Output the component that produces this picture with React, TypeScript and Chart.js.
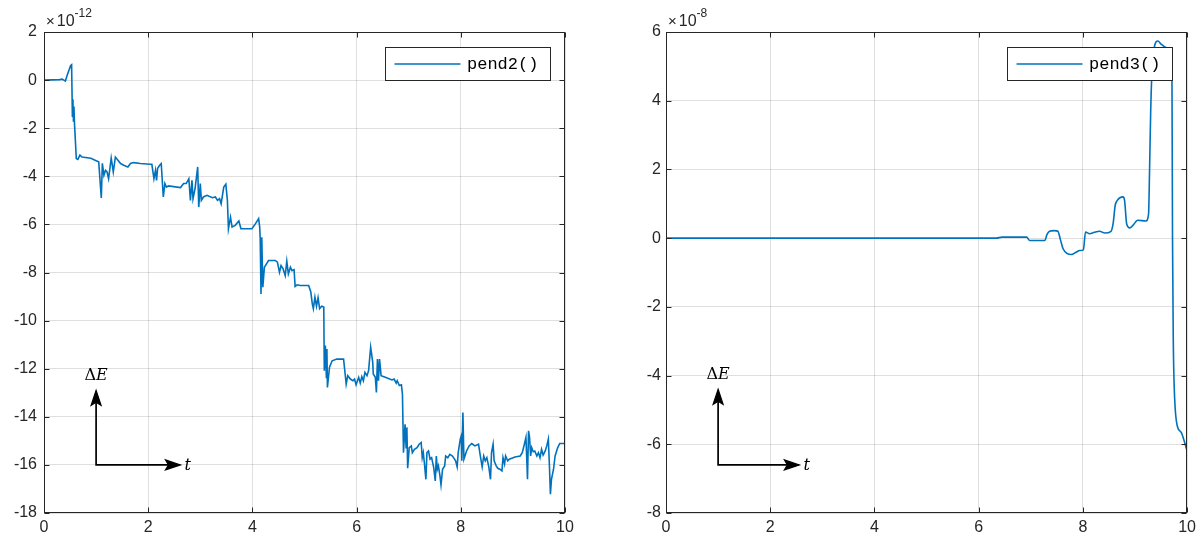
import { useEffect, useRef } from "react";
import { Chart, registerables } from "chart.js";

Chart.register(...registerables);

// ---------- data ----------
const t2 = [
  0, 0.3, 0.35, 0.41, 0.445, 0.51, 0.53, 0.545, 0.555, 0.565, 0.575, 0.585, 0.62, 0.65, 0.69, 0.73,
  0.9, 1.0, 1.05, 1.1, 1.12, 1.15, 1.18, 1.21, 1.24, 1.29, 1.33, 1.37, 1.42, 1.47, 1.53, 1.61, 1.66,
  1.72, 1.85, 2.04, 2.07, 2.11, 2.14, 2.16, 2.18, 2.22, 2.25, 2.29, 2.32, 2.35, 2.39, 2.62, 2.68,
  2.73, 2.78, 2.81, 2.84, 2.86, 2.9, 2.95, 2.97, 3.0, 3.02, 3.06, 3.13, 3.23, 3.29, 3.33, 3.37, 3.4,
  3.45, 3.49, 3.52, 3.54, 3.58, 3.61, 3.67, 3.74, 3.78, 3.9, 3.99, 4.06, 4.12, 4.14, 4.15, 4.165,
  4.18, 4.2, 4.23, 4.27, 4.31, 4.44, 4.48, 4.52, 4.55, 4.59, 4.63, 4.66, 4.69, 4.73, 4.76, 4.8,
  4.82, 4.86, 4.92, 5.08, 5.12, 5.15, 5.17, 5.2, 5.23, 5.26, 5.29, 5.33, 5.37, 5.38, 5.4, 5.42,
  5.43, 5.44, 5.48, 5.53, 5.62, 5.75, 5.78, 5.8, 5.83, 5.88, 5.93, 5.96, 5.99, 6.04, 6.07, 6.1,
  6.13, 6.16, 6.2, 6.23, 6.27, 6.31, 6.32, 6.36, 6.38, 6.4, 6.42, 6.44, 6.47, 6.55, 6.68, 6.72,
  6.76, 6.78, 6.82, 6.86, 6.88, 6.9, 6.93, 6.95, 6.965, 6.98, 7.01, 7.05, 7.07, 7.11, 7.16, 7.2,
  7.24, 7.26, 7.28, 7.3, 7.33, 7.35, 7.38, 7.41, 7.44, 7.48, 7.51, 7.53, 7.55, 7.57, 7.6, 7.62,
  7.65, 7.69, 7.71, 7.75, 7.79, 7.84, 7.88, 7.9, 7.93, 7.95, 7.99, 8.01, 8.02, 8.04, 8.06, 8.08,
  8.11, 8.16, 8.21, 8.27, 8.34, 8.38, 8.41, 8.44, 8.47, 8.5, 8.54, 8.57, 8.59, 8.62, 8.64, 8.68,
  8.71, 8.75, 8.79, 8.81, 8.84, 8.86, 8.9, 8.93, 8.98, 9.04, 9.14, 9.18, 9.22, 9.25, 9.27, 9.28,
  9.3, 9.32, 9.34, 9.36, 9.39, 9.42, 9.46, 9.49, 9.52, 9.55, 9.58, 9.62, 9.65, 9.68, 9.7, 9.72,
  9.74, 9.78, 9.81, 9.86, 9.9, 10.0,
];
const e2 = [
  0, 0.02, 0.04, -0.04, 0.2, 0.6, 0.64, -1.5, -0.8, -1.7, -1.1, -1.8, -3.26, -3.3, -3.12, -3.2,
  -3.25, -3.35, -3.4, -4.9, -3.46, -3.96, -3.75, -3.82, -4.1, -3.24, -3.82, -3.2, -3.33, -3.47,
  -3.54, -3.61, -3.47, -3.43, -3.47, -3.5, -3.5, -4.1, -3.75, -4.17, -3.68, -3.54, -3.47, -4.86,
  -4.3, -4.45, -4.4, -4.47, -4.3, -4.3, -4.1, -5.0, -4.17, -4.93, -4.5, -3.61, -5.28, -4.3, -5.0,
  -4.86, -4.79, -4.89, -4.86, -5.0, -4.93, -5.14, -4.45, -4.33, -5.0, -6.18, -5.7, -6.11, -6.04,
  -5.86, -6.18, -6.18, -6.18, -5.97, -5.76, -6.11, -6.6, -8.89, -6.53, -8.61, -7.78, -7.64, -7.5,
  -7.5, -7.57, -7.99, -7.71, -7.85, -8.13, -7.53, -8.06, -7.78, -7.92, -7.88, -8.58, -8.51, -8.54,
  -8.54, -8.8, -9.3, -9.5, -9.03, -9.4, -9.05, -9.5, -9.4, -9.44, -12.08, -11.04, -12.36, -11.18,
  -12.78, -11.94, -11.67, -11.6, -11.6, -12.22, -12.64, -12.29, -12.43, -12.5, -12.43, -12.67,
  -12.36, -12.6, -12.33, -12.5, -12.15, -12.29, -12.08, -11.11, -11.74, -12.22, -12.36, -12.99,
  -11.6, -12.5, -11.6, -12.29, -12.36, -12.47, -12.43, -12.6, -12.5, -12.7, -12.67, -13.06,
  -15.49, -14.31, -15.28, -14.44, -16.14, -15.28, -15.21, -15.49, -15.35, -15.28, -15.14, -15.07,
  -15.7, -15.49, -15.9, -16.6, -15.49, -15.42, -15.76, -15.7, -16.11, -16.67, -15.63, -16.18,
  -16.04, -16.46, -16.83, -16.18, -16.04, -15.63, -15.7, -15.56, -15.63, -15.76, -15.83, -16.08,
  -15.49, -14.93, -14.79, -15.83, -13.82, -15.76, -15.63, -15.42, -15.21, -15.11, -15.21, -15.14,
  -15.7, -16.08, -15.63, -15.83, -15.7, -16.11, -16.6, -15.49, -15.14, -15.83, -16.04, -16.14,
  -16.18, -16.25, -15.7, -15.97, -15.63, -15.83, -15.76, -15.72, -15.67, -15.63, -15.49, -15.14,
  -14.86, -15.97, -16.6, -14.58, -14.86, -15.63, -15.28, -15.45, -15.42, -15.63, -15.49, -15.7,
  -15.35, -15.59, -15.42, -15.21, -14.93, -15.97, -17.22, -16.6, -16.18, -15.63, -15.28, -15.11,
  -15.11,
];

const t3 = [
  0, 3.0, 6.0, 6.34, 6.45, 6.92, 6.98, 7.05, 7.27, 7.31, 7.36, 7.45, 7.52, 7.57, 7.62, 7.7, 7.78,
  7.86, 7.94, 8.01, 8.05, 8.13, 8.22, 8.32, 8.42, 8.54, 8.58, 8.62, 8.66, 8.77, 8.8, 8.84, 8.9,
  8.96, 9.05, 9.21, 9.26, 9.28, 9.3, 9.33, 9.37, 9.44, 9.5, 9.6, 9.69, 9.71, 9.72, 9.735, 9.75,
  9.77, 9.81, 9.89, 9.93, 10.0,
];
const e3 = [
  0, 0, 0, 0, 0.03, 0.03, -0.07, -0.07, -0.07, 0.1, 0.2, 0.22, 0.2, -0.05, -0.31, -0.45, -0.475,
  -0.42, -0.36, -0.34, 0.175, 0.13, 0.17, 0.2, 0.15, 0.2, 0.42, 0.95, 1.1, 1.2, 1.1, 0.42, 0.3,
  0.37, 0.52, 0.5, 0.7, 2.0, 3.6, 5.0, 5.55, 5.74, 5.65, 5.55, 5.45, 4.5, 0, -3.0, -4.2, -4.93,
  -5.46, -5.66, -5.83, -6.2,
];

const xTicks = [0, 2, 4, 6, 8, 10];
const yTicks2 = [-18, -16, -14, -12, -10, -8, -6, -4, -2, 0, 2];
const yTicks3 = [-8, -6, -4, -2, 0, 2, 4, 6];
const label2 = "pend2()";
const label3 = "pend3()";
const exponent2 = "-12";
const exponent3 = "-8";
// annotation arrows (data coords): corner x, corner y, tip of t-arrow, tip of ΔE-arrow
const arrows2 = [1, -16, 2.62, -12.9];
const arrows3 = [1, -6.6, 2.56, -4.4];

// ---------- styles ----------
const AXIS = "#262626";
const GRID = "rgba(38,38,38,0.15)";
const LINE = "#0072BD";
const SANS = "'Liberation Sans', Arial, Helvetica, sans-serif";
const SERIF = "'DejaVu Serif', 'Liberation Serif', serif";
const MONO = "'Liberation Mono', 'Courier New', monospace";

type Cfg = {
  id: string;
  t: number[];
  e: number[];
  yTicks: number[];
  label: string;
  exponent: string;
  arrows: number[];
  yWidth: number;
  padRight: number;
  tickPad: number;
  smooth: boolean;
};

function drawArrowHead(ctx: CanvasRenderingContext2D, x: number, y: number, ang: number) {
  const len = 15;
  const hw = 5;
  const notch = 12;
  const c = Math.cos(ang);
  const s = Math.sin(ang);
  const pt = (a: number, b: number) => [x + a * c - b * s, y + a * s + b * c];
  const p1 = pt(-len, hw);
  const p2 = pt(-notch, 0);
  const p3 = pt(-len, -hw);
  ctx.beginPath();
  ctx.moveTo(x, y);
  ctx.lineTo(p1[0], p1[1]);
  ctx.lineTo(p2[0], p2[1]);
  ctx.lineTo(p3[0], p3[1]);
  ctx.closePath();
  ctx.fill();
  ctx.lineWidth = 1.2;
  ctx.stroke();
}

function makeDecor(cfg: Cfg) {
  return {
    id: "decor_" + cfg.id,
    afterDraw(chart: any) {
      const { ctx, chartArea: a, scales } = chart;
      const xs = scales.x;
      const ys = scales.y;
      ctx.save();
      const L = Math.round(a.left) + 0.5;
      const R = Math.round(a.right) - 0.5;
      const T = Math.round(a.top) + 0.5;
      const B = Math.round(a.bottom) - 0.5;

      // frame
      ctx.strokeStyle = AXIS;
      ctx.lineWidth = 1;
      ctx.strokeRect(L, T, R - L, B - T);

      // inward ticks
      const tl = 5;
      ctx.beginPath();
      for (const v of xTicks) {
        const px = Math.round(xs.getPixelForValue(v)) + 0.5;
        ctx.moveTo(px, B);
        ctx.lineTo(px, B - tl);
        ctx.moveTo(px, T);
        ctx.lineTo(px, T + tl);
      }
      for (const v of cfg.yTicks) {
        const py = Math.round(ys.getPixelForValue(v)) + 0.5;
        ctx.moveTo(L, py);
        ctx.lineTo(L + tl, py);
        ctx.moveTo(R, py);
        ctx.lineTo(R - tl, py);
      }
      ctx.stroke();

      // exponent label
      ctx.fillStyle = AXIS;
      ctx.textBaseline = "alphabetic";
      ctx.textAlign = "left";
      let ex = a.left + 2;
      ctx.font = `15px ${SANS}`;
      ctx.fillText("\u00d7", ex, 26);
      ex += ctx.measureText("\u00d7").width + 2;
      ctx.font = `16px ${SANS}`;
      ctx.fillText("10", ex, 26);
      ex += ctx.measureText("10").width;
      ctx.font = `12px ${SANS}`;
      ctx.fillText(cfg.exponent, ex, 17);

      // annotation arrows
      const [ax, ay, tx, ty] = cfg.arrows;
      const cx = xs.getPixelForValue(ax);
      const cy = ys.getPixelForValue(ay);
      const hx = xs.getPixelForValue(tx);
      const vy = ys.getPixelForValue(ty);
      ctx.strokeStyle = "#000";
      ctx.fillStyle = "#000";
      ctx.lineWidth = 1.7;
      ctx.beginPath();
      ctx.moveTo(cx, vy + 10);
      ctx.lineTo(cx, cy);
      ctx.lineTo(hx - 10, cy);
      ctx.stroke();
      drawArrowHead(ctx, cx, vy, -Math.PI / 2);
      drawArrowHead(ctx, hx, cy, 0);

      ctx.font = `16px ${SERIF}`;
      const wD = ctx.measureText("\u0394").width;
      ctx.font = `italic 16px ${SERIF}`;
      const wE = ctx.measureText("E").width;
      const sx = cx - (wD + wE) / 2;
      ctx.font = `16px ${SERIF}`;
      ctx.fillText("\u0394", sx, vy - 10);
      ctx.font = `italic 16px ${SERIF}`;
      ctx.fillText("E", sx + wD, vy - 10);
      ctx.fillText("t", hx + 4, cy + 5);

      // legend
      const ds = chart.data.datasets[0];
      const bw = 165;
      const bh = 33;
      const bx = Math.round(a.right - 15 - bw) + 0.5;
      const by = Math.round(a.top + 15) + 0.5;
      ctx.fillStyle = "#fff";
      ctx.fillRect(bx, by, bw, bh);
      ctx.strokeStyle = AXIS;
      ctx.lineWidth = 1;
      ctx.strokeRect(bx, by, bw, bh);
      ctx.strokeStyle = ds.borderColor;
      ctx.lineWidth = 1.5;
      ctx.beginPath();
      ctx.moveTo(bx + 9, by + 16.5);
      ctx.lineTo(bx + 75, by + 16.5);
      ctx.stroke();
      ctx.fillStyle = "#000";
      ctx.font = `17px ${MONO}`;
      ctx.fillText(ds.label, bx + 81.5, by + 21);
      ctx.restore();
    },
  };
}

function Panel({ cfg, left, width }: { cfg: Cfg; left: number; width: number }) {
  const ref = useRef<HTMLCanvasElement | null>(null);
  useEffect(() => {
    if (!ref.current) return;
    const chart = new Chart(ref.current, {
      type: "line",
      data: {
        datasets: [
          {
            label: cfg.label,
            data: cfg.t.map((x, i) => ({ x, y: cfg.e[i] })),
            borderColor: LINE,
            borderWidth: 1.6,
            pointRadius: 0,
            tension: 0,
            cubicInterpolationMode: cfg.smooth ? "monotone" : "default",
            fill: false,
          },
        ],
      },
      options: {
        animation: false,
        responsive: false,
        maintainAspectRatio: false,
        events: [],
        layout: { padding: { top: 32, right: cfg.padRight, left: 0, bottom: 0 } },
        plugins: { legend: { display: false }, tooltip: { enabled: false } },
        scales: {
          x: {
            type: "linear",
            min: 0,
            max: 10,
            afterBuildTicks: (s: any) => {
              s.ticks = xTicks.map((v) => ({ value: v }));
            },
            afterFit: (s: any) => {
              s.height = 26;
            },
            grid: { color: GRID, drawTicks: false, lineWidth: 1 },
            border: { display: false },
            ticks: {
              color: AXIS,
              padding: 5,
              maxRotation: 0,
              autoSkip: false,
              font: { family: SANS, size: 16 },
              callback: (v: any) => String(v),
            },
          },
          y: {
            type: "linear",
            min: cfg.yTicks[0],
            max: cfg.yTicks[cfg.yTicks.length - 1],
            afterBuildTicks: (s: any) => {
              s.ticks = cfg.yTicks.map((v) => ({ value: v }));
            },
            afterFit: (s: any) => {
              s.width = cfg.yWidth;
            },
            grid: { color: GRID, drawTicks: false, lineWidth: 1 },
            border: { display: false },
            ticks: {
              color: AXIS,
              padding: cfg.tickPad,
              autoSkip: false,
              font: { family: SANS, size: 16 },
              callback: (v: any) => String(v),
            },
          },
        },
      },
      plugins: [makeDecor(cfg)],
    } as any);
    return () => chart.destroy();
  }, [cfg]);
  return (
    <canvas
      ref={ref}
      width={width}
      height={539}
      style={{ position: "absolute", left, top: 0, width, height: 539 }}
    />
  );
}

const cfg2: Cfg = {
  id: "p2",
  t: t2,
  e: e2,
  yTicks: yTicks2,
  label: label2,
  exponent: exponent2,
  arrows: arrows2,
  yWidth: 44,
  padRight: 35,
  tickPad: 7,
  smooth: false,
};
const cfg3: Cfg = {
  id: "p3",
  t: t3,
  e: e3,
  yTicks: yTicks3,
  label: label3,
  exponent: exponent3,
  arrows: arrows3,
  yWidth: 66,
  padRight: 13.5,
  tickPad: 5,
  smooth: true,
};

export default function App() {
  return (
    <div
      style={{
        position: "fixed",
        left: 0,
        top: 0,
        width: 1201,
        height: 539,
        background: "#fff",
        overflow: "hidden",
      }}
    >
      <Panel cfg={cfg2} left={0} width={600} />
      <Panel cfg={cfg3} left={600} width={601} />
    </div>
  );
}
